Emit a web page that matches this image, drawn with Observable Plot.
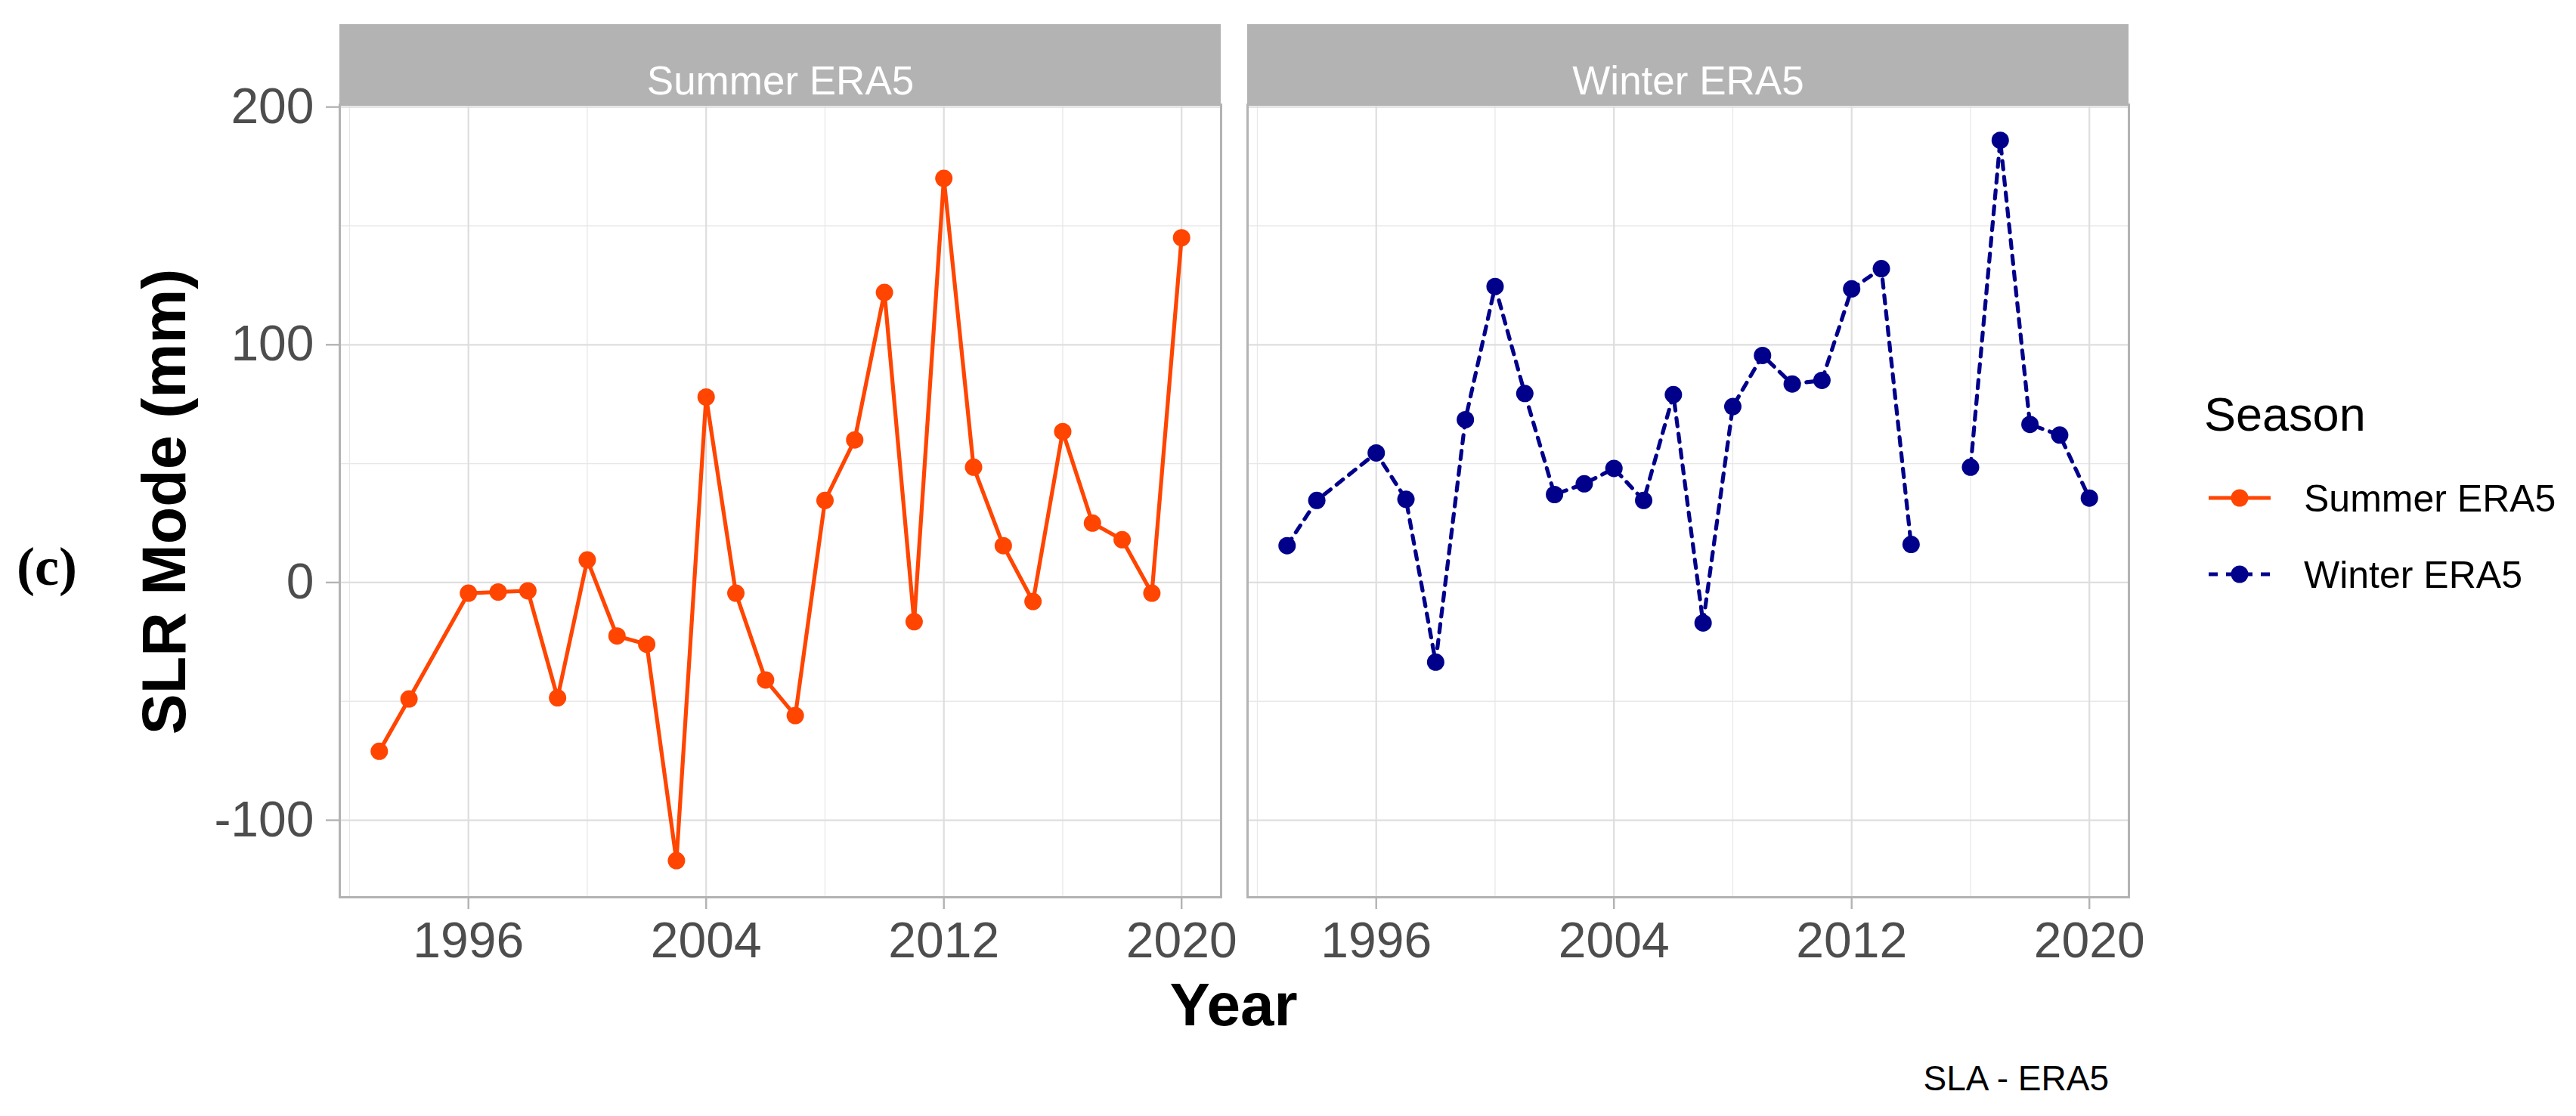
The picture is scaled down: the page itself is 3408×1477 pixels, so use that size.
<!DOCTYPE html>
<html><head><meta charset="utf-8">
<script src="https://cdn.jsdelivr.net/npm/d3@7"></script>
<script src="https://cdn.jsdelivr.net/npm/@observablehq/plot@0.6"></script>
<style>
html,body{margin:0;padding:0;background:#fff;}
#fig{position:relative;width:3408px;height:1477px;}
#fig svg{position:absolute;left:0;top:0;}
</style></head><body><div id="fig"></div>
<script>
// ---- data ----
const seasons = ["Summer ERA5", "Winter ERA5"];
const years = [1993,1994,1996,1997,1998,1999,2000,2001,2002,2003,2004,2005,2006,2007,2008,2009,2010,2011,2012,2013,2014,2015,2016,2017,2018,2019,2020];
const summerValues = [-71,-49,-4.5,-4,-3.5,-48.5,9.5,-22.5,-26,-117,78,-4.5,-41,-56,34.5,60,122,-16.5,170,48.5,15.5,-8,63.5,25,18,-4.5,145];
const winterValues = [15.5,34.5,54.5,35,-33.5,68.5,124.5,79.5,37,41.5,48,34.5,79,-17,74,95.5,83.5,85,123.5,132,16,null,48.5,186,66.5,62,35.5];
const yTicks = [-100, 0, 100, 200];
const yMinorTicks = [-50, 50, 150];
const xTicks = [1996, 2004, 2012, 2020];
const xMinorTicks = [1992, 2000, 2008, 2016];
const seasonColors = ["#FF4500", "#00008B"];
const dashPattern = "11,10";

const toRows = (vals, s) => years.map((yr, i) => ({year: yr, value: vals[i], season: s}));
const summerRows = toRows(summerValues, seasons[0]);
const winterRows = toRows(winterValues, seasons[1]);

const W = 3408, H = 1477;
const stripH = 106;

function strips(index, scales, values, dimensions) {
  const {width, marginLeft, marginRight, marginTop} = dimensions;
  const r = document.createElementNS("http://www.w3.org/2000/svg", "rect");
  r.setAttribute("x", marginLeft);
  r.setAttribute("y", marginTop - stripH);
  r.setAttribute("width", width - marginLeft - marginRight);
  r.setAttribute("height", stripH);
  r.setAttribute("fill", "#B3B3B3");
  return r;
}

const chart = Plot.plot({
  width: W, height: H,
  marginLeft: 448, marginRight: 591, marginTop: 138, marginBottom: 290,
  style: {fontFamily: "'Liberation Sans', Arial, sans-serif", background: "transparent", overflow: "visible"},
  fx: {domain: seasons, axis: null, label: null, paddingInner: 0.0291, paddingOuter: 0},
  x: {domain: [1991.67, 2021.33], axis: null},
  y: {domain: [-132.4, 201], axis: null},
  color: {domain: seasons, range: seasonColors},
  marks: [
    Plot.gridY(yMinorTicks, {stroke: "#E8E8E8", strokeOpacity: 1, strokeWidth: 1.3}),
    Plot.gridX(xMinorTicks, {stroke: "#E8E8E8", strokeOpacity: 1, strokeWidth: 1.3}),
    Plot.gridY(yTicks, {stroke: "#DEDEDE", strokeOpacity: 1, strokeWidth: 2.2}),
    Plot.gridX(xTicks, {stroke: "#DEDEDE", strokeOpacity: 1, strokeWidth: 2.2}),
    Plot.frame({stroke: "#B3B3B3", strokeWidth: 3}),
    strips,
    Plot.line(summerRows, {x: "year", y: "value", fx: "season", stroke: seasonColors[0], strokeWidth: 5.2}),
    Plot.line(winterRows, {x: "year", y: "value", fx: "season", stroke: seasonColors[1], strokeWidth: 5.2, strokeDasharray: dashPattern}),
    Plot.dot(summerRows, {x: "year", y: "value", fx: "season", fill: seasonColors[0], r: 11.5}),
    Plot.dot(winterRows, {x: "year", y: "value", fx: "season", fill: seasonColors[1], r: 11.5}),
    Plot.axisY(yTicks, {anchor: "left", tickSize: 18, tickPadding: 16, fontSize: 66, fill: "#4D4D4D", stroke: "#B3B3B3", strokeWidth: 2.4, label: null, tickFormat: d => String(d)}),
    Plot.axisX(xTicks, {anchor: "bottom", tickSize: 16, tickPadding: 17, fontSize: 66, fill: "#4D4D4D", stroke: "#B3B3B3", strokeWidth: 2.4, label: null, tickFormat: d => String(d)}),
    Plot.text(seasons, {fx: d => d, text: d => d, frameAnchor: "top", dy: -51, fill: "white", fontSize: 53})
  ]
});
document.getElementById("fig").appendChild(chart);

// ---- annotations & legend (overlay) ----
const ov = d3.select("#fig").append("svg")
  .attr("width", W).attr("height", H)
  .style("font-family", "'Liberation Sans', Arial, sans-serif");

ov.append("text").text("(c)")
  .attr("x", 22).attr("y", 774)
  .attr("font-family", "'Liberation Serif', 'Times New Roman', serif")
  .attr("font-weight", "bold").attr("font-size", 72).attr("fill", "#000");

ov.append("text").text("SLR Mode (mm)")
  .attr("transform", "translate(245,664) rotate(-90)")
  .attr("text-anchor", "middle").attr("font-weight", "bold").attr("font-size", 81).attr("fill", "#000");

ov.append("text").text("Year")
  .attr("x", 1632).attr("y", 1357)
  .attr("text-anchor", "middle").attr("font-weight", "bold").attr("font-size", 80).attr("fill", "#000");

ov.append("text").text("SLA - ERA5")
  .attr("x", 2790).attr("y", 1443)
  .attr("text-anchor", "end").attr("font-size", 46).attr("fill", "#000");

ov.append("text").text("Season")
  .attr("x", 2916).attr("y", 570).attr("font-size", 63).attr("fill", "#000");

const legendRows = [
  {label: seasons[0], color: seasonColors[0], dash: null, cy: 659},
  {label: seasons[1], color: seasonColors[1], dash: dashPattern, cy: 760}
];
legendRows.forEach(d => {
  const l = ov.append("line").attr("x1", 2922).attr("x2", 3004).attr("y1", d.cy).attr("y2", d.cy)
    .attr("stroke", d.color).attr("stroke-width", 5.2);
  if (d.dash) l.attr("stroke-dasharray", "12,11");
  ov.append("circle").attr("cx", 2963).attr("cy", d.cy).attr("r", 11.5).attr("fill", d.color);
  ov.append("text").text(d.label).attr("x", 3048).attr("y", d.cy + 18)
    .attr("font-size", 50).attr("fill", "#000");
});
</script>
</body></html>
